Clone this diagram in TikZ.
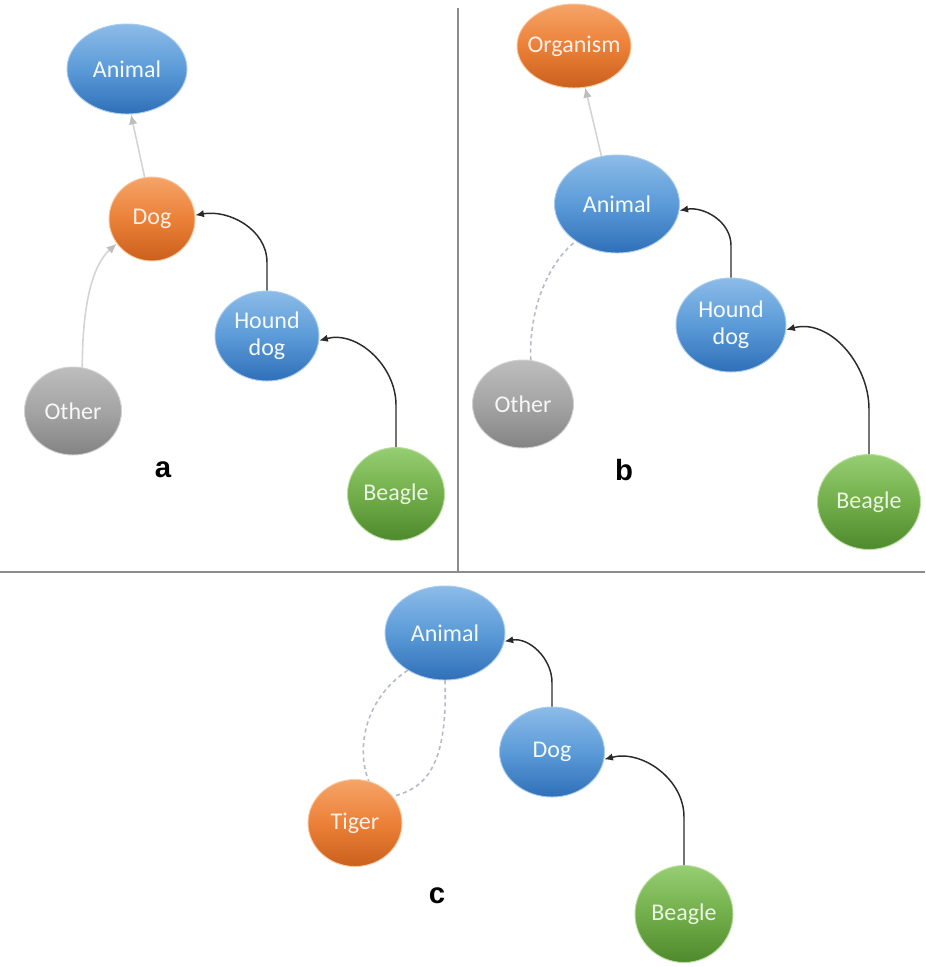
\documentclass[tikz,border=0pt]{standalone}
\usepackage{fontspec}
\setmainfont{Carlito}
\newfontfamily\panelfont{Liberation Sans}
\usetikzlibrary{arrows.meta,shapes.geometric}

\definecolor{blueTop}{HTML}{8CBBE8}
\definecolor{blueMid}{HTML}{5B9BD8}
\definecolor{blueBot}{HTML}{2F6FB8}
\definecolor{blueEdge}{HTML}{A9CBEC}
\definecolor{orangeTop}{HTML}{F5A468}
\definecolor{orangeMid}{HTML}{EC8038}
\definecolor{orangeBot}{HTML}{C9601C}
\definecolor{orangeEdge}{HTML}{F8C9A2}
\definecolor{grayTop}{HTML}{BDBDBD}
\definecolor{grayMid}{HTML}{A4A4A4}
\definecolor{grayBot}{HTML}{838383}
\definecolor{grayEdge}{HTML}{D2D2D2}
\definecolor{greenTop}{HTML}{96CE72}
\definecolor{greenMid}{HTML}{72AE4A}
\definecolor{greenBot}{HTML}{4E8A2C}
\definecolor{greenEdge}{HTML}{B9DEA0}
\definecolor{inkArrow}{HTML}{2A2A2A}
\definecolor{faintArrow}{HTML}{D4D4D4}
\definecolor{dashLine}{HTML}{B4BBC6}
\definecolor{rule}{HTML}{8C8C8C}

\tikzset{
  concept/.style={ellipse, inner sep=0pt, line width=0.7pt, align=center,
    font=\fontsize{18}{20}\selectfont},
  bluenode/.style={concept, top color=blueTop, bottom color=blueBot, middle color=blueMid,
    draw=blueEdge, text=white!92!blueTop},
  orangenode/.style={concept, top color=orangeTop, bottom color=orangeBot, middle color=orangeMid,
    draw=orangeEdge, text=white!85!orangeTop},
  graynode/.style={concept, top color=grayTop, bottom color=grayBot, middle color=grayMid,
    draw=grayEdge, text=white!88!grayTop},
  greennode/.style={concept, top color=greenTop, bottom color=greenBot, middle color=greenMid,
    draw=greenEdge, text=white!80!greenTop},
  isa/.style={draw=inkArrow, line width=1.1pt, -{Latex[length=6.5pt,width=5.5pt]}},
  faint/.style={draw=faintArrow, line width=1.2pt, -{Latex[length=7.5pt,width=6.5pt,color=grayTop]}},
  related/.style={draw=dashLine, line width=1.2pt, dash pattern=on 3pt off 2.5pt},
  panellabel/.style={font=\panelfont\bfseries\fontsize{22}{24}\selectfont, inner sep=0pt},
  divider/.style={draw=rule, line width=0.8pt}
}

\begin{document}
\begin{tikzpicture}[x=0.75pt, y=0.75pt]
\useasboundingbox (0,0) rectangle (925,-967);

% panel dividers
\coordinate (vtop) at (458,-8);
\coordinate (vbot) at (458,-572);
\coordinate (hleft) at (0,-572);
\coordinate (hright) at (925,-572);
\draw[divider] (vtop) -- (vbot);
\draw[divider] (hleft) -- (hright);

% ---------- panel a ----------
\node[bluenode,   minimum width=90pt,    minimum height=67.5pt] (animalA) at (127,-69)  {Animal};
\node[orangenode, minimum width=64.5pt,  minimum height=63pt]   (dogA)    at (152,-219) {Dog};
\node[bluenode,   minimum width=78pt,    minimum height=67.5pt] (hdA)     at (267,-336) {Hound\\dog};
\node[graynode,   minimum width=72.75pt, minimum height=66pt]   (otherA)  at (73,-411)  {Other};
\node[greennode,  minimum width=72.75pt, minimum height=69.75pt](bgA)     at (396,-494) {Beagle};
\node[panellabel] (labA) at (163,-470) {a};

\draw[faint] (dogA.100) -- (animalA.275);
\draw[faint] (otherA.78) .. controls +(0,60) and +(-25,-22) .. (dogA.215);
\draw[isa] (hdA.north) -- ++(0,28) to[out=90,in=10] (dogA.5);
\draw[isa] (bgA.north) -- ++(0,42) to[out=90,in=15] (hdA.355);

% ---------- panel b ----------
\node[orangenode, minimum width=85.5pt,  minimum height=63pt]   (orgB)    at (574,-46)  {\makebox[0pt]{Organism}};
\node[bluenode,   minimum width=93.75pt, minimum height=73.5pt] (animalB) at (617,-204) {Animal};
\node[bluenode,   minimum width=82.5pt,  minimum height=70.5pt] (hdB)     at (731,-325) {Hound\\dog};
\node[graynode,   minimum width=75.75pt, minimum height=66pt]   (otherB)  at (523,-404) {Other};
\node[greennode,  minimum width=77.25pt, minimum height=71.25pt](bgB)     at (869,-502) {Beagle};
\node[panellabel] (labB) at (624,-470) {b};

\draw[faint] (animalB.108) -- (orgB.285);
\draw[related] (otherB.80) .. controls +(-2,50) and +(-28,-22) .. (animalB.222);
\draw[isa] (hdB.north) -- ++(0,32) to[out=90,in=10] (animalB.354);
\draw[isa] (bgB.north) -- ++(0,45) to[out=90,in=15] (hdB.355);

% ---------- panel c ----------
\node[bluenode,   minimum width=90pt,    minimum height=70.5pt] (animalC) at (445,-633) {Animal};
\node[bluenode,   minimum width=78.75pt, minimum height=67.5pt] (dogC)    at (552,-752) {Dog};
\node[orangenode, minimum width=70.5pt,  minimum height=65.25pt](tigerC)  at (355,-823) {Tiger};
\node[greennode,  minimum width=73.5pt,  minimum height=72.75pt](bgC)     at (684,-914) {Beagle};
\node[panellabel] (labC) at (437,-896) {c};

\draw[isa] (dogC.north) -- ++(0,24) to[out=90,in=10] (animalC.352);
\draw[isa] (bgC.north) -- ++(0,48) to[out=90,in=15] (dogC.352);
\draw[related] (animalC.225) .. controls +(-45,-30) and +(-12,30) .. (tigerC.72);
\draw[related] (animalC.south) .. controls +(3,-90) and +(30,8) .. (tigerC.35);
\end{tikzpicture}
\end{document}
